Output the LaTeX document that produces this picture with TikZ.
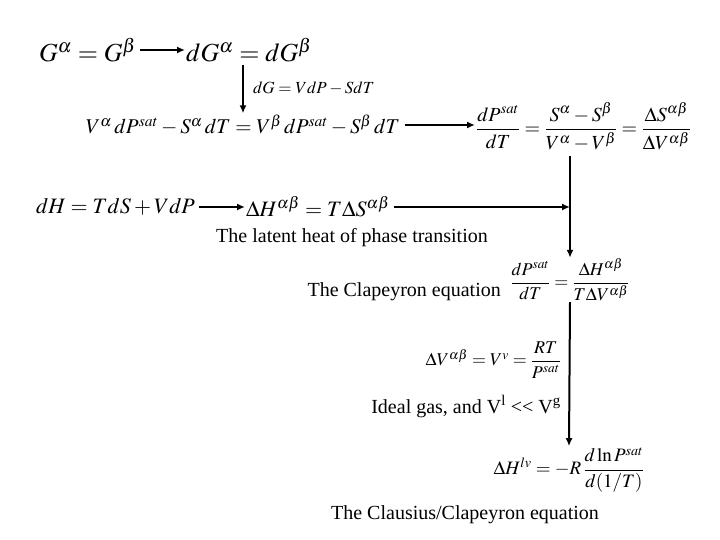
\documentclass[tikz,border=0pt]{standalone}
\usepackage{amsmath}
\usepackage{mathptmx}
\usepackage{fontspec}
\setmainfont{Liberation Serif}
\usetikzlibrary{arrows.meta,positioning}

\begin{document}
\begin{tikzpicture}[x=1pt, y=-1pt,
    eqbig/.style={font=\fontsize{26}{30}\selectfont, inner sep=1pt},
    eqrow/.style={font=\fontsize{22}{26}\selectfont, inner sep=1pt},
    eqmid/.style={font=\fontsize{21}{25}\selectfont, inner sep=1pt},
    eqsml/.style={font=\fontsize{17}{20}\selectfont, inner sep=1pt},
    lbl/.style={font=\fontsize{20}{24}\selectfont, inner sep=1pt},
    arr/.style={line width=2pt, -{Latex[length=8pt,width=7pt]}}
  ]
    \useasboundingbox (0,0) rectangle (720,540);
    % first chain: equal Gibbs energies
    \node[eqbig, anchor=west] (g1) at (38,50)  {$G^{\alpha} = G^{\beta}$};
    \node[eqbig, anchor=west] (g2) at (185,50) {$dG^{\alpha} = dG^{\beta}$};
    \node[eqmid]              (v1) at (243,125)
      {$V^{\alpha}\,dP^{sat} - S^{\alpha}\,dT = V^{\beta}\,dP^{sat} - S^{\beta}\,dT$};
    \node[eqmid, font=\fontsize{20}{24}\selectfont, anchor=west] (f1) at (475,127)
      {$\dfrac{dP^{sat}}{dT} = \dfrac{S^{\alpha}-S^{\beta}}{V^{\alpha}-V^{\beta}}
        = \dfrac{\Delta S^{\alpha\beta}}{\Delta V^{\alpha\beta}}$};
    % enthalpy chain
    \node[eqrow, anchor=west] (h1) at (35,207)  {$dH = TdS + VdP$};
    \node[eqrow, anchor=west] (h2) at (245,207) {$\Delta H^{\alpha\beta} = T\Delta S^{\alpha\beta}$};
    \node[lbl] (t1) at (352,238) {The latent heat of phase transition};
    % Clapeyron
    \node[eqsml, font=\fontsize{18}{22}\selectfont] (c1) at (570,280)
      {$\dfrac{dP^{sat}}{dT} = \dfrac{\Delta H^{\alpha\beta}}{T\Delta V^{\alpha\beta}}$};
    \node[lbl, anchor=base east] (t2) at (502,296) {The Clapeyron equation};
    % ideal gas
    \node[eqsml, font=\fontsize{18}{22}\selectfont, anchor=east] (i1) at (562,360)
      {$\Delta V^{\alpha\beta} = V^{v} = \dfrac{RT}{P^{sat}}$};
    \node[lbl, anchor=base east] (t3) at (562,413)
      {Ideal gas, and V\textsuperscript{l} <{}< V\textsuperscript{g}};
    % Clausius/Clapeyron
    \node[eqsml, font=\fontsize{19}{23}\selectfont] (c2) at (569,470)
      {$\Delta H^{lv} = -R\,\dfrac{d\ln P^{sat}}{d(1/T)}$};
    \node[lbl] (t4) at (465,515) {The Clausius/Clapeyron equation};

    \draw[arr, shorten <=3pt] (g1) -- (g2);
    \draw[arr, shorten <=2pt] (g2.south -| v1.north) -- (v1.north)
      node[midway, right=8pt, eqsml] {$dG = VdP - SdT$};
    \draw[arr, shorten <=4pt] (v1.east) -- (v1.east -| f1.west);
    \draw[arr, shorten <=3pt] (h1) -- (h2);
    \draw[arr, shorten <=3pt] (h2.east) -- (h2.east -| c1.north);
    \draw[arr, shorten <=4pt] (f1.south -| c1.north) -- (c1.north);
    \draw[arr] (c1.south) -- (c2.north);
  \end{tikzpicture}
\end{document}
